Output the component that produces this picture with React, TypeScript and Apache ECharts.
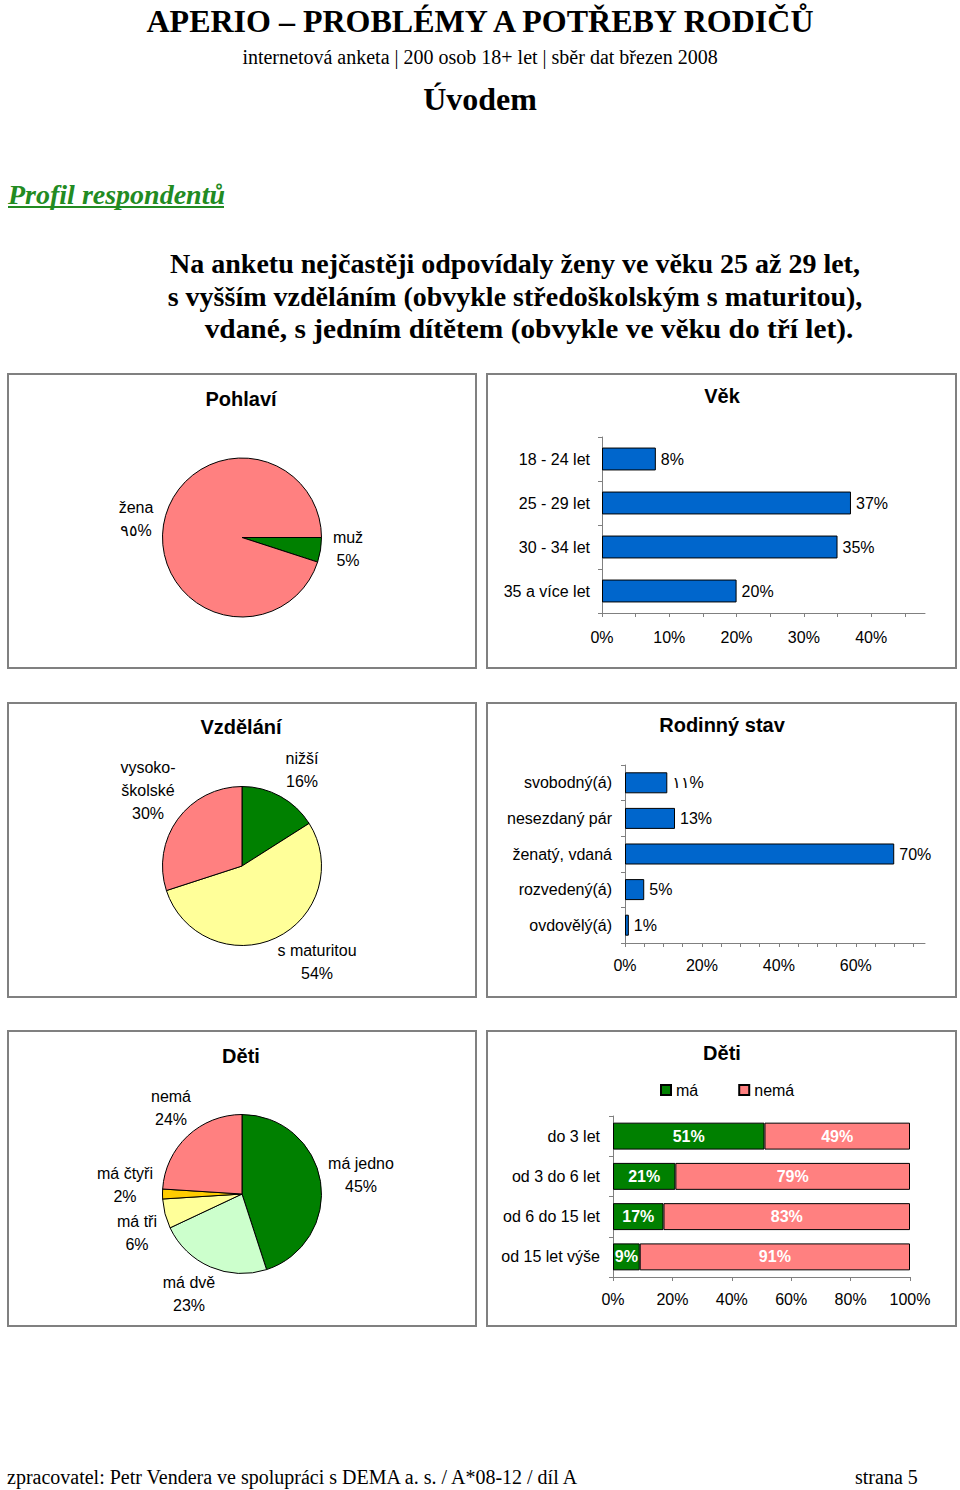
import React, { useEffect, useRef } from "react";
import * as echarts from "echarts";

// ---------- DATA ----------
const pohlaviCategories = ["muž", "žena"];
const pohlaviValues = [5, 95];

const vekCategories = ["18 - 24 let", "25 - 29 let", "30 - 34 let", "35 a více let"];
const vekValues = [8, 37, 35, 20];
const vekTicks = [0, 5, 10, 15, 20, 25, 30, 35, 40, 45];
const vekTickLabels = [0, 10, 20, 30, 40];

const vzdelaniCategories = ["nižší", "s maturitou", "vysoko-\nškolské"];
const vzdelaniValues = [16, 54, 30];

const stavCategories = ["svobodný(á)", "nesezdaný pár", "ženatý, vdaná", "rozvedený(á)", "ovdovělý(á)"];
const stavValues = [11, 13, 70, 5, 1];
const stavTicks = [0, 5, 10, 15, 20, 25, 30, 35, 40, 45, 50, 55, 60, 65, 70, 75];
const stavTickLabels = [0, 20, 40, 60];

const detiCategories = ["má jedno", "má dvě", "má tři", "má čtyři", "nemá"];
const detiValues = [45, 23, 6, 2, 24];

const vekDetiCategories = ["do 3 let", "od 3 do 6 let", "od 6 do 15 let", "od 15 let výše"];
const seriesNames = ["má", "nemá"];
const maValues = [51, 21, 17, 9];
const nemaValues = [49, 79, 83, 91];
const detiTicks = [0, 20, 40, 60, 80, 100];

// labels that the source printed with Arabic-Indic digits
const arabicIndicNames = ["žena", "svobodný(á)"];

// ---------- STYLE ----------
const SANS = '"Liberation Sans", Arial, "DejaVu Sans", sans-serif';
const SERIF = '"Liberation Serif", "Times New Roman", serif';
const GREEN = "#008000";
const PINK = "#FF8080";
const YELLOW = "#FFFF99";
const LIGHTGREEN = "#CCFFCC";
const GOLD = "#FFCC00";
const BLUE = "#0066CC";
const AXIS = "#808080";

const pohlaviColors = [GREEN, PINK];
const vzdelaniColors = [GREEN, YELLOW, PINK];
const detiColors = [GREEN, LIGHTGREEN, YELLOW, GOLD, PINK];

const pohlaviLabelPos = [[348, 549], [136, 519]];
const vzdelaniLabelPos = [[302, 770], [317, 962], [148, 790]];
const detiLabelPos = [[361, 1175], [189, 1294], [137, 1233], [125, 1185], [171, 1108]];

const digitsAI = "٠١٢٣٤٥٦٧٨٩";
const fmtNum = (name: string, v: number) =>
  arabicIndicNames.includes(name) ? String(v).replace(/\d/g, (d) => digitsAI[+d]) : String(v);

const pieLabel = (p: any) => `${p.name}\n${fmtNum(p.name, p.value)}%`;

function pieSeries(center: number[], cats: string[], vals: number[], colors: string[], pos: number[][], startAngle: number) {
  return {
    type: "pie",
    center,
    radius: 79.5,
    startAngle,
    clockwise: true,
    silent: true,
    avoidLabelOverlap: false,
    data: cats.map((n, i) => ({ name: n, value: vals[i], itemStyle: { color: colors[i] } })),
    itemStyle: { borderColor: "#000", borderWidth: 1 },
    label: {
      show: true,
      formatter: pieLabel,
      fontSize: 16,
      lineHeight: 23,
      color: "#000",
      fontFamily: SANS,
    },
    labelLine: { show: false },
    labelLayout: (p: any) => ({
      x: pos[p.dataIndex][0],
      y: pos[p.dataIndex][1],
      align: "center",
      verticalAlign: "middle",
    }),
  };
}

function valueAxis(gridIndex: number, max: number, ticks: number[], labels: number[], margin: number) {
  return {
    type: "value",
    gridIndex,
    min: 0,
    max,
    axisLine: { show: true, lineStyle: { color: AXIS, width: 1 } },
    axisTick: { show: true, length: 4, lineStyle: { color: AXIS }, customValues: ticks },
    axisLabel: {
      customValues: labels,
      formatter: "{value}%",
      fontSize: 16,
      color: "#000",
      fontFamily: SANS,
      margin,
    },
    splitLine: { show: false },
  };
}

function categoryAxis(gridIndex: number, cats: string[], margin: number) {
  return {
    type: "category",
    gridIndex,
    data: cats,
    inverse: true,
    axisLine: { show: true, lineStyle: { color: AXIS, width: 1 } },
    axisTick: { show: true, length: 4, lineStyle: { color: AXIS } },
    axisLabel: { fontSize: 16, color: "#000", fontFamily: SANS, margin },
  };
}

function txt(text: string, x: number, y: number, size: number, opts: any = {}) {
  return {
    type: "text",
    x,
    y,
    scaleX: opts.scaleX || 1,
    silent: true,
    style: {
      text,
      fontSize: size,
      fontFamily: opts.family || SANS,
      fontWeight: opts.weight || "normal",
      fontStyle: opts.style || "normal",
      fill: opts.color || "#000",
      align: opts.align || "center",
      verticalAlign: "middle",
    },
  };
}

function panel(x: number, y: number, w: number, h: number) {
  return {
    type: "rect",
    silent: true,
    z: -1,
    shape: { x, y, width: w, height: h },
    style: { fill: "#fff", stroke: AXIS, lineWidth: 2 },
  };
}

export default function App() {
  const ref = useRef<HTMLDivElement>(null);
  useEffect(() => {
    if (!ref.current) return;
    const chart = echarts.init(ref.current, undefined, { renderer: "svg" });
    const barLabel = {
      show: true,
      position: "right",
      distance: 5,
      formatter: (p: any) => `${fmtNum(p.name, p.value)}%`,
      fontSize: 16,
      color: "#000",
      fontFamily: SANS,
    };
    const option: any = {
      animation: false,
      backgroundColor: "#fff",
      graphic: [
        panel(8, 374, 468, 294),
        panel(487, 374, 469, 294),
        panel(8, 703, 468, 294),
        panel(487, 703, 469, 294),
        panel(8, 1031, 468, 295),
        panel(487, 1031, 469, 295),
        txt("APERIO – PROBLÉMY A POTŘEBY RODIČŮ", 480, 21, 32, { family: SERIF, weight: "bold" }),
        txt("internetová anketa | 200 osob 18+ let | sběr dat březen 2008", 480, 57, 20, { family: SERIF }),
        txt("Úvodem", 480, 99, 32, { family: SERIF, weight: "bold" }),
        txt("Profil respondentů", 8, 194, 28, { family: SERIF, weight: "bold", style: "italic", color: "#228B22", align: "left" }),
        {
          type: "line",
          silent: true,
          shape: { x1: 8, y1: 207, x2: 224, y2: 207 },
          style: { stroke: "#228B22", lineWidth: 2 },
        },
        txt("Na anketu nejčastěji odpovídaly ženy ve věku 25 až 29 let,", 515, 263, 28, { family: SERIF, weight: "bold" }),
        txt("s vyšším vzděláním (obvykle středoškolským s maturitou),", 515, 296, 28, { family: SERIF, weight: "bold" }),
        txt("vdané, s jedním dítětem (obvykle ve věku do tří let).", 529, 328, 28, { family: SERIF, weight: "bold", scaleX: 1.05 }),
        txt("Pohlaví", 241, 399, 20, { weight: "bold" }),
        txt("Věk", 722, 396, 20, { weight: "bold" }),
        txt("Vzdělání", 241, 727, 20, { weight: "bold" }),
        txt("Rodinný stav", 722, 725, 20, { weight: "bold" }),
        txt("Děti", 241, 1056, 20, { weight: "bold" }),
        txt("Děti", 722, 1053, 20, { weight: "bold" }),
        txt("zpracovatel: Petr Vendera ve spolupráci s DEMA a. s. / A*08-12 / díl A", 7, 1477, 20, { family: SERIF, align: "left" }),
        txt("strana 5", 855, 1477, 20, { family: SERIF, align: "left" }),
      ],
      legend: {
        data: seriesNames,
        left: 655,
        top: 1077,
        itemWidth: 10,
        itemHeight: 10,
        itemGap: 40,
        icon: "rect",
        textStyle: { fontSize: 16, color: "#000", fontFamily: SANS },
        selectedMode: false,
      },
      grid: [
        { left: 602, top: 437, width: 323, height: 176, containLabel: false },
        { left: 625, top: 765, width: 300, height: 178, containLabel: false },
        { left: 613, top: 1116, width: 297, height: 161, containLabel: false },
      ],
      xAxis: [
        valueAxis(0, 48, vekTicks, vekTickLabels, 16),
        valueAxis(1, 78, stavTicks, stavTickLabels, 14),
        valueAxis(2, 100, detiTicks, detiTicks, 14),
      ],
      yAxis: [
        categoryAxis(0, vekCategories, 12),
        categoryAxis(1, stavCategories, 13),
        categoryAxis(2, vekDetiCategories, 13),
      ],
      series: [
        pieSeries([242, 537.5], pohlaviCategories, pohlaviValues, pohlaviColors, pohlaviLabelPos, 0),
        pieSeries([242, 866], vzdelaniCategories, vzdelaniValues, vzdelaniColors, vzdelaniLabelPos, 90),
        pieSeries([242, 1194], detiCategories, detiValues, detiColors, detiLabelPos, 90),
        {
          type: "bar",
          xAxisIndex: 0,
          yAxisIndex: 0,
          silent: true,
          barWidth: "52%",
          data: vekValues,
          itemStyle: { color: BLUE, borderColor: "#000", borderWidth: 1 },
          label: barLabel,
        },
        {
          type: "bar",
          xAxisIndex: 1,
          yAxisIndex: 1,
          silent: true,
          barWidth: "59%",
          data: stavValues,
          itemStyle: { color: BLUE, borderColor: "#000", borderWidth: 1 },
          label: barLabel,
        },
        ...[maValues, nemaValues].map((vals, i) => ({
          type: "bar",
          name: seriesNames[i],
          xAxisIndex: 2,
          yAxisIndex: 2,
          stack: "deti",
          silent: true,
          barWidth: "67%",
          data: vals,
          itemStyle: { color: i === 0 ? GREEN : PINK, borderColor: "#000", borderWidth: 1 },
          label: {
            show: true,
            position: "inside",
            formatter: "{c}%",
            fontSize: 16,
            fontWeight: "bold",
            color: "#fff",
            fontFamily: SANS,
          },
        })),
      ],
    };
    chart.setOption(option);
    return () => chart.dispose();
  }, []);
  return (
    <div
      ref={ref}
      style={{ position: "absolute", left: 0, top: 0, width: 960, height: 1490, background: "#fff" }}
    />
  );
}
